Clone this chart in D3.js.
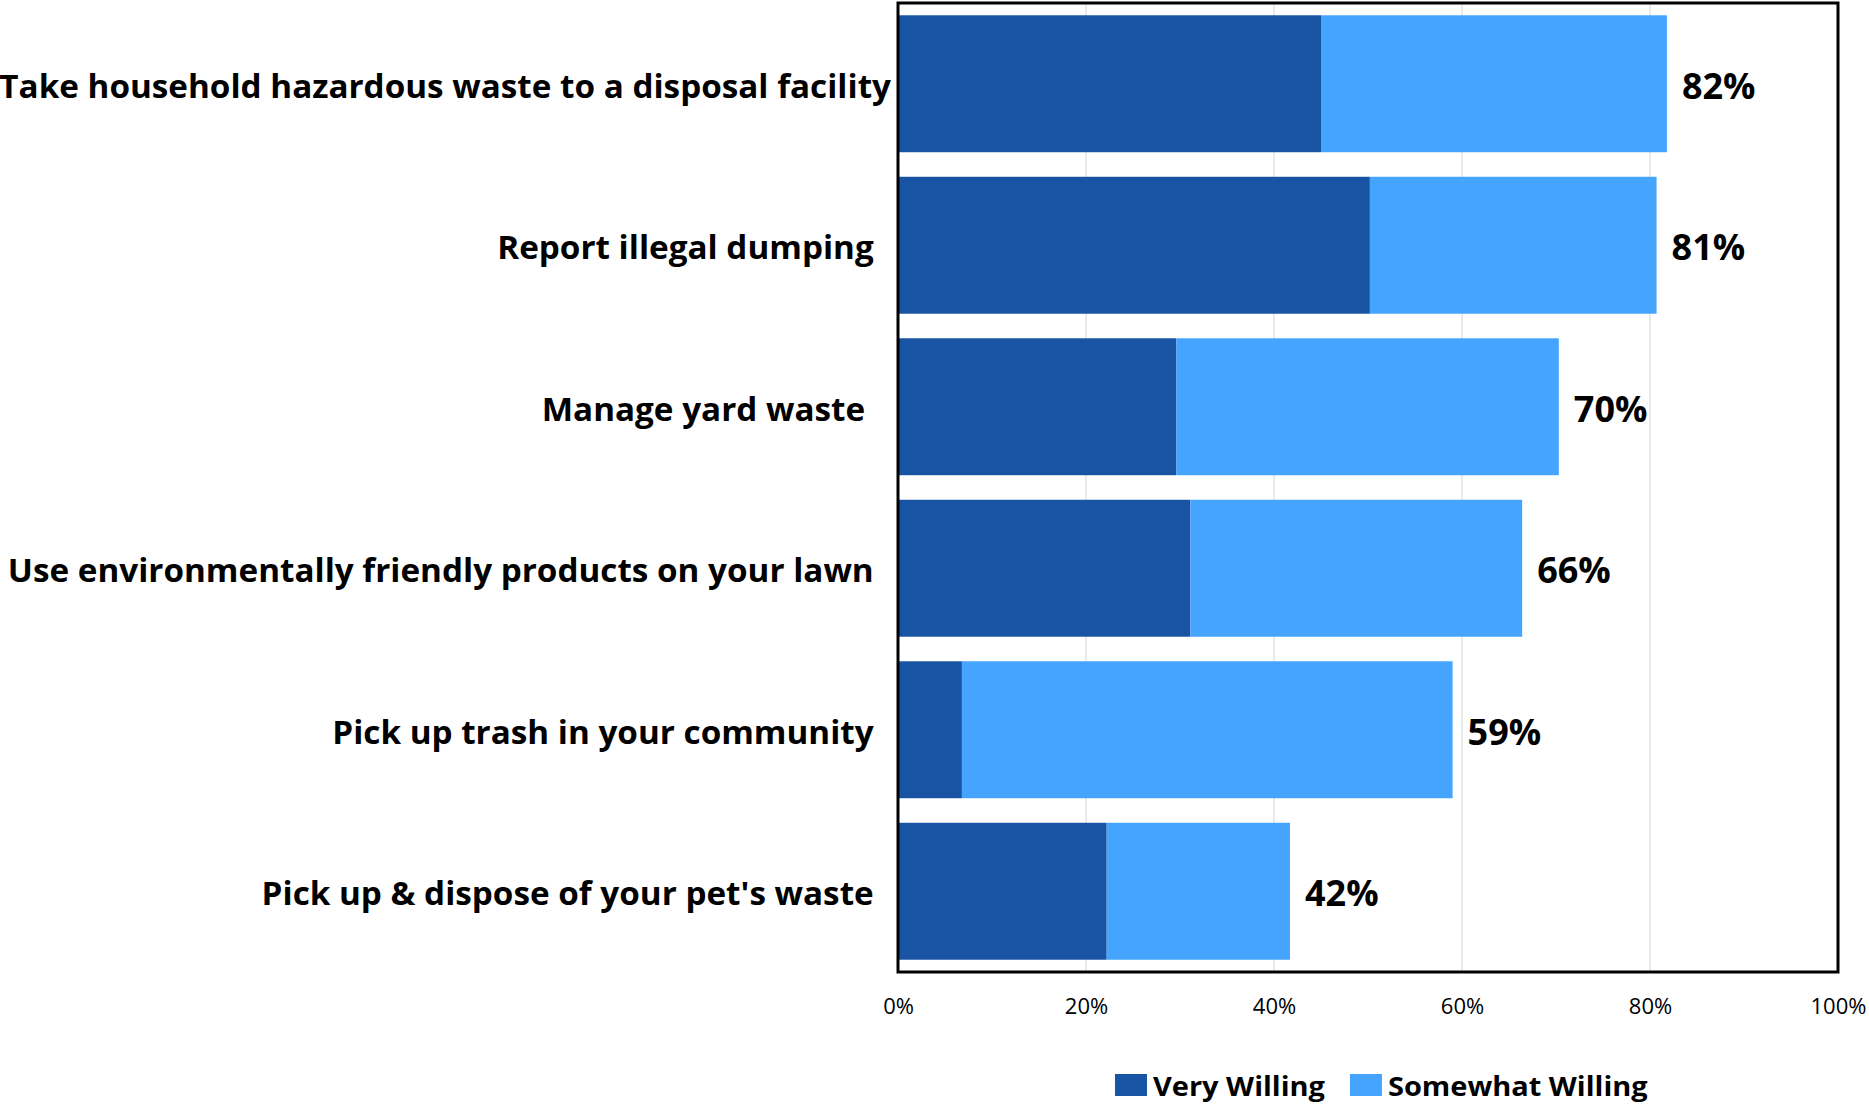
<!DOCTYPE html>
<html>
<head>
<meta charset="utf-8">
<script src="https://cdn.jsdelivr.net/npm/d3@7"></script>
<style>
  html, body { margin: 0; padding: 0; background: #ffffff; }
  svg { display: block; }
  text { font-family: "Open Sans", "Noto Sans", sans-serif; white-space: pre; }
</style>
</head>
<body>
<svg id="chart" width="1869" height="1105"></svg>
<script>
// ---- data ----
const categories = [
  "Take household hazardous waste to a disposal facility",
  "Report illegal dumping  ",
  "Manage yard waste   ",
  "Use environmentally friendly products on your lawn  ",
  "Pick up trash in your community  ",
  "Pick up & dispose of your pet's waste  "
];
const veryWilling     = [45.0, 50.2, 29.6, 31.1, 6.8, 22.2];
const somewhatWilling = [36.8, 30.5, 40.7, 35.3, 52.2, 19.5];
const totalLabels     = ["82%", "81%", "70%", "66%", "59%", "42%"];
const seriesNames     = ["Very Willing", "Somewhat Willing"];
const tickValues      = [0, 20, 40, 60, 80, 100];
const tickLabels      = ["0%", "20%", "40%", "60%", "80%", "100%"];

// ---- layout / style ----
const colors = ["#1854a3", "#45a5fe"];
const plot = { left: 898, right: 1838, top: 3, bottom: 972 };
const svg = d3.select("#chart");

const x = d3.scaleLinear().domain([0, 100]).range([plot.left, plot.right]);
const y = d3.scaleBand().domain(d3.range(categories.length))
  .range([plot.top, plot.bottom]).paddingInner(0.152).paddingOuter(0.076);

// gridlines
svg.append("g").selectAll("line").data(tickValues.filter(t => t > 0 && t < 100)).join("line")
  .attr("x1", d => x(d)).attr("x2", d => x(d))
  .attr("y1", plot.top).attr("y2", plot.bottom)
  .attr("stroke", "#dcdcdc").attr("stroke-width", 1.2);

// stacked bars
const rows = categories.map((c, i) => ({ i, v: veryWilling[i], s: somewhatWilling[i] }));
const g = svg.append("g");
g.selectAll("rect.very").data(rows).join("rect").attr("class", "very")
  .attr("x", x(0)).attr("y", d => y(d.i))
  .attr("width", d => x(d.v) - x(0)).attr("height", y.bandwidth())
  .attr("fill", colors[0]);
g.selectAll("rect.some").data(rows).join("rect").attr("class", "some")
  .attr("x", d => x(d.v)).attr("y", d => y(d.i))
  .attr("width", d => x(d.v + d.s) - x(d.v)).attr("height", y.bandwidth())
  .attr("fill", colors[1]);

// value labels
svg.append("g").selectAll("text").data(rows).join("text")
  .attr("x", d => x(d.v + d.s) + 15)
  .attr("y", d => y(d.i) + y.bandwidth() / 2 + 15)
  .attr("font-size", 36).attr("font-weight", 700).attr("fill", "#000")
  .text(d => totalLabels[d.i]);

// plot frame
svg.append("rect")
  .attr("x", plot.left).attr("y", plot.top)
  .attr("width", plot.right - plot.left).attr("height", plot.bottom - plot.top)
  .attr("fill", "none").attr("stroke", "#000").attr("stroke-width", 3);

// category labels (horizontally fitted to a Calibri-like width)
const catSize = 32;
const probe = svg.append("text").attr("font-size", catSize).attr("font-weight", 700)
  .text(categories[0]);
const sx = 892 / probe.node().getComputedTextLength();
probe.remove();
svg.append("g").selectAll("text").data(categories).join("text")
  .attr("transform", (d, i) => `translate(891,${y(i) + y.bandwidth() / 2 + 14}) scale(${sx},1)`)
  .attr("text-anchor", "end")
  .attr("font-size", catSize).attr("font-weight", 700).attr("fill", "#000")
  .text(d => d);

// x axis tick labels
const axis = d3.axisBottom(x).tickValues(tickValues).tickFormat((d, i) => tickLabels[i]).tickSize(0).tickPadding(0);
const ag = svg.append("g").attr("transform", `translate(0,${plot.bottom})`).call(axis);
ag.select(".domain").remove();
ag.selectAll("text").attr("font-size", 22).attr("fill", "#000")
  .attr("font-family", "\"Open Sans\", sans-serif")
  .attr("dy", null).attr("y", 42);

// legend
const legSize = 27;
const lprobe = svg.append("text").attr("font-size", legSize).attr("font-weight", 700).text(seriesNames[0]);
const lsx = 172 / lprobe.node().getComputedTextLength();
lprobe.remove();
const leg = svg.append("g");
let lx = 1115;
seriesNames.forEach((name, i) => {
  leg.append("rect").attr("x", lx).attr("y", 1074).attr("width", 32).attr("height", 22).attr("fill", colors[i]);
  const t = leg.append("text").attr("transform", `translate(${lx + 38},1096) scale(${lsx},1)`)
    .attr("font-size", legSize).attr("font-weight", 700).attr("fill", "#000").text(name);
  lx = lx + 38 + t.node().getComputedTextLength() * lsx + 25;
});
</script>
</body>
</html>
